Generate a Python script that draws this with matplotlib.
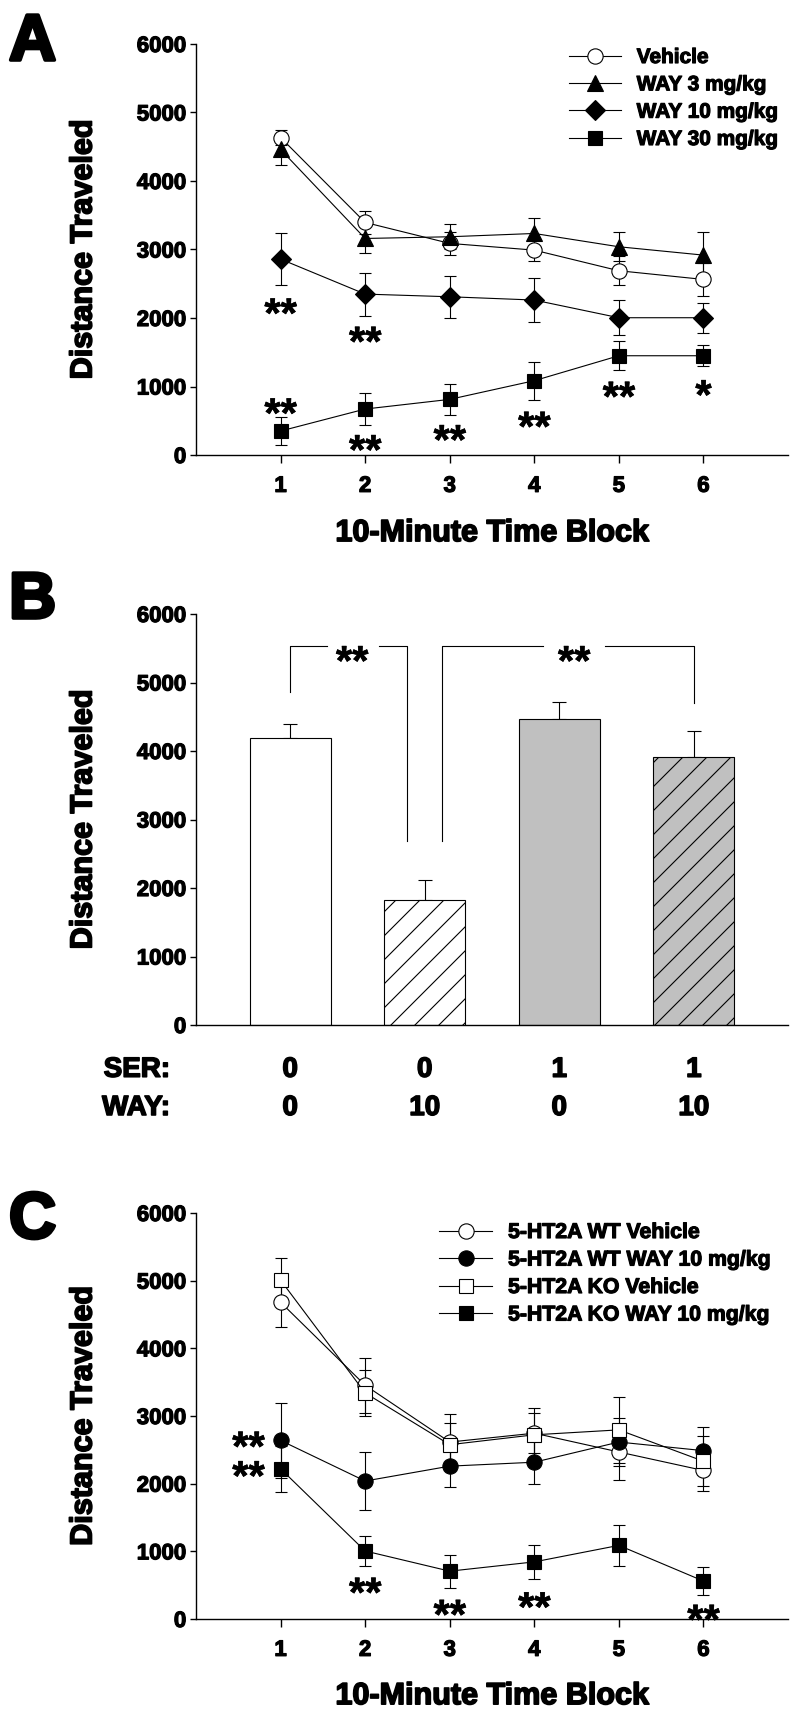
import matplotlib
matplotlib.use('Agg')
import matplotlib.pyplot as plt
import matplotlib.patheffects as pe
from matplotlib.text import Text

DPI = 72
S = 100 / DPI   # sizes below are written for 100 dpi, scaled to the 72 dpi canvas


def P(v):
    return v * S


plt.rcParams['font.family'] = ['Liberation Sans', 'DejaVu Sans']
plt.rcParams['font.weight'] = 'bold'
plt.rcParams['hatch.linewidth'] = P(0.8)

# ---- data ----
blocks = [1, 2, 3, 4, 5, 6]

# panel A
a_labels = ['Vehicle', 'WAY 3 mg/kg', 'WAY 10 mg/kg', 'WAY 30 mg/kg']
a_vehicle = [4635, 3395, 3089, 2991, 2690, 2563]
a_vehicle_err = [107, 170, 170, 160, 210, 240]
a_way3 = [4460, 3161, 3186, 3234, 3040, 2918]
a_way3_err = [220, 210, 185, 220, 210, 340]
a_way10 = [2860, 2349, 2310, 2262, 2004, 2004]
a_way10_err = [385, 315, 307, 320, 258, 220]
a_way30 = [350, 671, 812, 1085, 1449, 1449]
a_way30_err = [210, 240, 224, 277, 214, 156]
a_star_x = [1, 1, 2, 2, 3, 4, 5, 6]
a_star_y = [2213, 754, 1800, 219, 365, 559, 997, 1021]
a_star_txt = ['**', '**', '**', '**', '**', '**', '**', '*']

# panel B
b_means = [4195, 1826, 4461, 3908]
b_err = [198, 297, 255, 391]
b_ser = ['0', '0', '1', '1']
b_way = ['0', '10', '0', '10']

# panel C
c_labels = ['5-HT2A WT Vehicle', '5-HT2A WT WAY 10 mg/kg',
            '5-HT2A KO Vehicle', '5-HT2A KO WAY 10 mg/kg']
c_wt_veh = [4681, 3454, 2615, 2746, 2468, 2195]
c_wt_veh_err = [370, 410, 420, 300, 409, 300]
c_wt_way = [2639, 2039, 2259, 2317, 2615, 2488]
c_wt_way_err = [556, 424, 308, 327, 355, 356]
c_ko_veh = [5008, 3341, 2576, 2722, 2795, 2332]
c_ko_veh_err = [320, 335, 317, 400, 488, 366]
c_ko_way = [2220, 1005, 707, 844, 1088, 561]
c_ko_way_err = [337, 224, 244, 254, 302, 210]
c_star_x = [0.62, 2, 3, 4, 6]
c_star_y = [2260, 537, 210, 322, 137]
c_star_txt = ['**\n**', '**', '**', '**', '**']

W, H = 800, 1726
fig = plt.figure(figsize=(W / DPI, H / DPI), dpi=DPI)
stars = []


def px_axes(left, top, right, bottom):
    return fig.add_axes([left / W, 1 - bottom / H, (right - left) / W, (bottom - top) / H])


def style(ax):
    for s in ['top', 'right']:
        ax.spines[s].set_visible(False)
    for s in ['left', 'bottom']:
        ax.spines[s].set_linewidth(P(1.0))
    ax.set_ylim(0, 6000)
    ax.set_yticks(range(0, 6001, 1000))
    ax.tick_params(axis='y', length=P(4), width=P(1), pad=P(3), labelsize=P(16))
    ax.set_ylabel('Distance Traveled', fontsize=P(22), fontweight='bold', va='center')
    ax.yaxis.set_label_coords(-0.19, 0.5)


def time_axis(ax):
    ax.set_xlim(0, 7)
    ax.set_xticks(blocks)
    ax.tick_params(axis='x', length=P(6), width=P(1), pad=P(9), labelsize=P(16))
    ax.set_xlabel('10-Minute Time Block', fontsize=P(22), fontweight='bold', va='center')
    ax.xaxis.set_label_coords(0.5, -0.19)


def star(ax, x, y, s, fs=30):
    fs = P(fs)
    t = ax.annotate(s, (x, y), xytext=(0, -0.57 * fs), textcoords='offset points',
                    ha='center', va='baseline', fontsize=fs, fontweight='bold',
                    linespacing=0.66)
    stars.append(t)


def series(ax, y, err, marker, face, ms, label):
    ax.errorbar(blocks, y, yerr=err, fmt='none', ecolor='black', elinewidth=P(0.8),
                capsize=P(4), capthick=P(0.8), zorder=2)
    ax.plot(blocks, y, color='black', lw=P(0.8), marker=marker, ms=P(ms),
            mfc=face, mec='black', mew=P(0.8), label=label, zorder=3)


def legend(ax, x, y, fs):
    ax.legend(loc='upper left', bbox_to_anchor=(x / W, 1 - y / H),
              bbox_transform=fig.transFigure, frameon=False, fontsize=P(fs),
              handlelength=2.5, handletextpad=0.75, labelspacing=0.4,
              borderpad=0, borderaxespad=0, numpoints=1)


# ---- panel A ----
ax_a = px_axes(196, 44, 788, 455)
style(ax_a)
time_axis(ax_a)
series(ax_a, a_vehicle, a_vehicle_err, 'o', 'white', 11, a_labels[0])
series(ax_a, a_way3, a_way3_err, '^', 'black', 11, a_labels[1])
series(ax_a, a_way10, a_way10_err, 'D', 'black', 10, a_labels[2])
series(ax_a, a_way30, a_way30_err, 's', 'black', 9.5, a_labels[3])
for x, y, t in zip(a_star_x, a_star_y, a_star_txt):
    star(ax_a, x, y, t)
legend(ax_a, 569, 48, 15)

# ---- panel B ----
ax_b = px_axes(196, 614, 788, 1025)
style(ax_b)
ax_b.set_xlim(0.3, 4.7)
ax_b.set_xticks([])
pos = [1, 2, 3, 4]
faces = ['white', 'white', '#c0c0c0', '#c0c0c0']
hatches = ['', '/', '', '/']
for p, m, e, fc, h in zip(pos, b_means, b_err, faces, hatches):
    ax_b.bar(p, m, width=0.6, color=fc, edgecolor='black', linewidth=P(0.8), hatch=h, zorder=2)
    ax_b.errorbar(p, m, yerr=[[0], [e]], fmt='none', ecolor='black', elinewidth=P(0.8),
                  capsize=P(5), capthick=P(0.8), zorder=1)
# significance brackets
kw = dict(color='black', lw=P(0.8))
ax_b.plot([1, 1, 1.27], [4862, 5540, 5540], **kw)
ax_b.plot([1.66, 1.87, 1.87], [5540, 5540, 2681], **kw)
ax_b.plot([2.13, 2.13, 2.88], [2681, 5540, 5540], **kw)
ax_b.plot([3.34, 4, 4], [5540, 5540, 4705], **kw)
star(ax_b, 1.46, 5460, '**')
star(ax_b, 3.11, 5460, '**')
tr = ax_b.get_xaxis_transform()
ax_b.text(-0.044, -0.109, 'SER:', transform=ax_b.transAxes, ha='right', va='center', fontsize=P(20))
ax_b.text(-0.044, -0.202, 'WAY:', transform=ax_b.transAxes, ha='right', va='center', fontsize=P(20))
for p, s, w in zip(pos, b_ser, b_way):
    ax_b.text(p, -0.109, s, transform=tr, ha='center', va='center', fontsize=P(20))
    ax_b.text(p, -0.202, w, transform=tr, ha='center', va='center', fontsize=P(20))

# ---- panel C ----
ax_c = px_axes(196, 1213, 788, 1619)
style(ax_c)
time_axis(ax_c)
series(ax_c, c_wt_veh, c_wt_veh_err, 'o', 'white', 11, c_labels[0])
series(ax_c, c_wt_way, c_wt_way_err, 'o', 'black', 11, c_labels[1])
series(ax_c, c_ko_veh, c_ko_veh_err, 's', 'white', 10, c_labels[2])
series(ax_c, c_ko_way, c_ko_way_err, 's', 'black', 10, c_labels[3])
for x, y, t in zip(c_star_x, c_star_y, c_star_txt):
    star(ax_c, x, y, t)
legend(ax_c, 439, 1223, 15.3)

# panel letters
for letter, ypx in [('A', 60), ('B', 618), ('C', 1238)]:
    fig.text(9 / W, 1 - ypx / H, letter, fontsize=P(47), fontweight='bold', ha='left', va='baseline')

# heavier strokes on the text, like the original's black type (stars stay crisp)
fig.canvas.draw()
for t in fig.findobj(Text):
    if not t.get_text():
        continue
    if t in stars:
        t.set_path_effects([pe.withStroke(linewidth=0.6, foreground='black')])
    else:
        t.set_path_effects([pe.withStroke(linewidth=t.get_fontsize() * 0.055, foreground='black')])

fig.savefig('out.png', dpi=DPI)
